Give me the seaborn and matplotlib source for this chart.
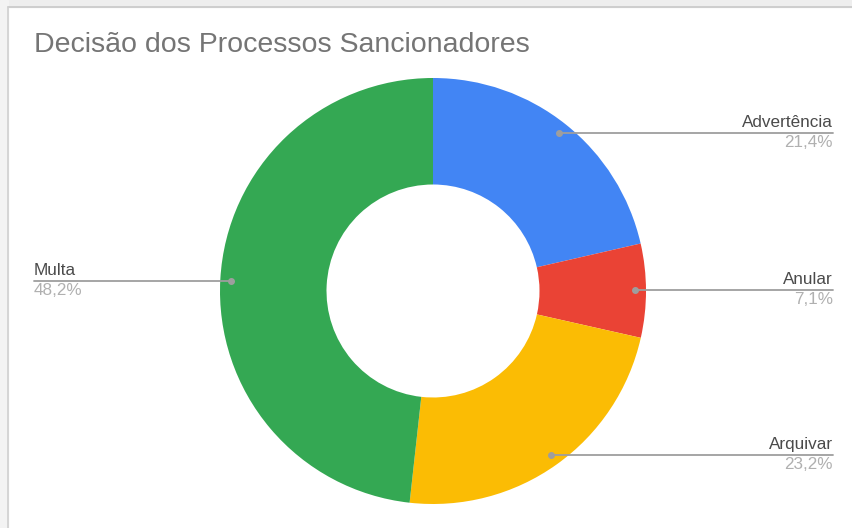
import numpy as np
import matplotlib
matplotlib.use("Agg")
import matplotlib.pyplot as plt
import seaborn as sns

labels = ["Advertência", "Anular", "Arquivar", "Multa"]
values = [21.4, 7.1, 23.2, 48.2]
pct_text = ["21,4%", "7,1%", "23,2%", "48,2%"]
colors = ["#4285F4", "#EA4335", "#FBBC04", "#34A853"]

sns.set_theme(style="white")
plt.rcParams["font.family"] = ["Liberation Sans", "DejaVu Sans"]

W, H = 852, 528
fig = plt.figure(figsize=(W / 100, H / 100), dpi=100)
ax = fig.add_axes([0, 0, 1, 1])

# card border (screenshot frame)
ax.add_patch(plt.Rectangle((0, H - 7), W, 7, color="#eeeeee", zorder=0))
ax.add_patch(plt.Rectangle((0, 0), 8, H, color="#f3f3f3", zorder=0))
ax.plot([8, W], [H - 7, H - 7], color="#c8c8c8", lw=1.2, zorder=1)
ax.plot([8, 8], [0, H - 7], color="#d0d0d0", lw=1.2, zorder=1)

cx, cy, R = 433, H - 291, 213
wedges, _ = ax.pie(values, colors=colors, startangle=90, counterclock=False,
                   center=(cx, cy), radius=R, frame=True,
                   wedgeprops=dict(width=R * 0.5, linewidth=0))
ax.set_xlim(0, W)
ax.set_ylim(0, H)
ax.axis("off")

ax.text(34, H - 45, "Decisão dos Processos Sancionadores", fontsize=20.5,
        color="#757575", va="center", ha="left")

cum = 0
for lab, v, p in zip(labels, values, pct_text):
    mid = 90 - (cum + v / 2) / 100 * 360
    cum += v
    r = R * 0.95
    px = cx + r * np.cos(np.radians(mid))
    py = cy + r * np.sin(np.radians(mid))
    if px >= cx:
        x_end, ha = 833, "right"
    else:
        x_end, ha = 34, "left"
    ax.plot([px, x_end], [py, py], color="#9e9e9e", lw=1.3, zorder=3)
    ax.plot(px, py, "o", ms=4, color="#9e9e9e", zorder=4)
    ax.text(x_end, py + 3, lab, ha=ha, va="bottom", fontsize=12.3, color="#4a4a4a")
    ax.text(x_end, py - 2, p, ha=ha, va="top", fontsize=12.3, color="#b0b0b0")

fig.savefig("out.png", dpi=100)
